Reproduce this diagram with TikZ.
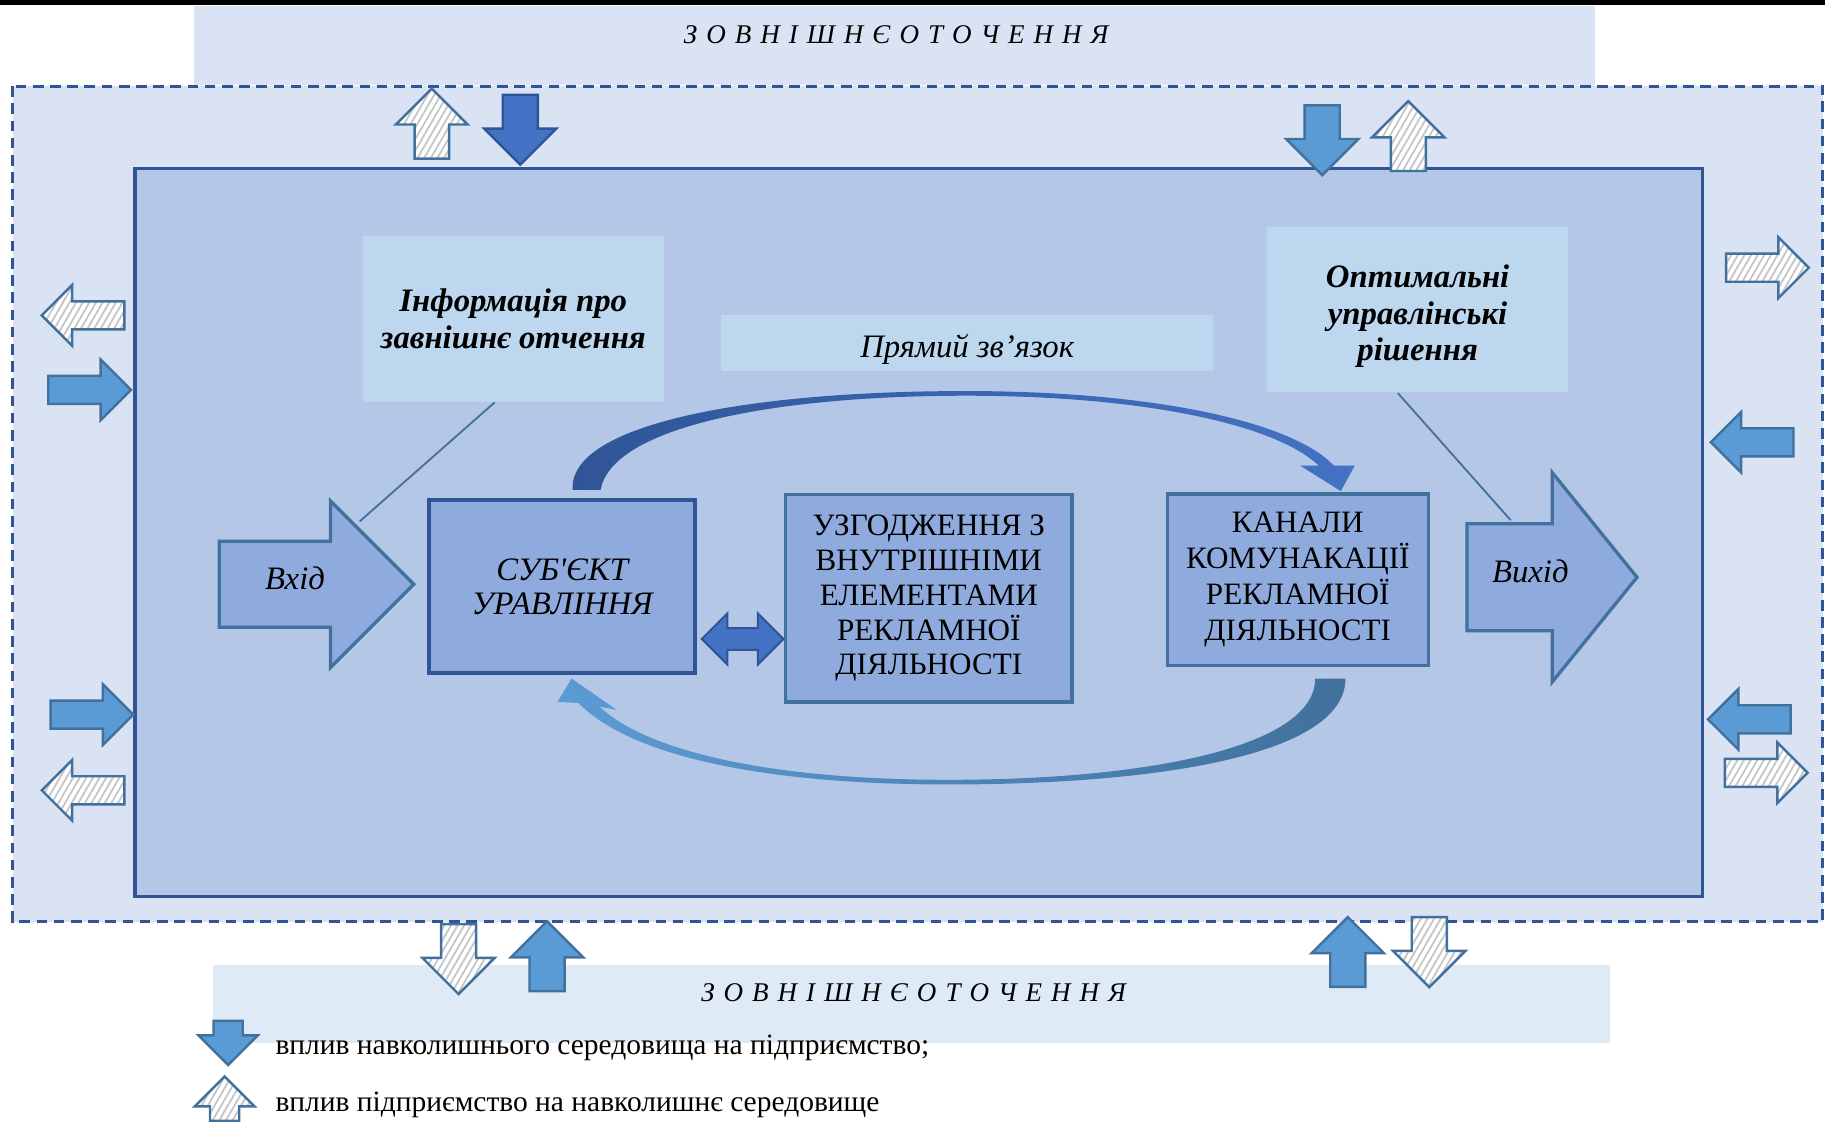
\documentclass[tikz,border=0pt]{standalone}
\usepackage{fontspec}
\setmainfont{Liberation Serif}
\newfontfamily\plainserif{Liberation Serif}
\usetikzlibrary{shapes.arrows, patterns.meta, calc}

\definecolor{outerfill}{HTML}{DAE3F3}
\definecolor{innerfill}{HTML}{B4C7E7}
\definecolor{boxfill}{HTML}{8FAADC}
\definecolor{notefill}{HTML}{BDD7EE}
\definecolor{lowfill}{HTML}{DEEBF7}
\definecolor{frame}{HTML}{2F5597}
\definecolor{steel}{HTML}{41719C}
\definecolor{midblue}{HTML}{5B9BD5}
\definecolor{deepblue}{HTML}{4472C4}

\newcommand{\envword}{З\hspace{2.2pt}О\hspace{2.2pt}В\hspace{2.2pt}Н\hspace{2.2pt}І\hspace{2.2pt}Ш\hspace{2.2pt}Н\hspace{2.2pt}Є\hspace{2.2pt}О\hspace{2.2pt}Т\hspace{2.2pt}О\hspace{2.2pt}Ч\hspace{2.2pt}Е\hspace{2.2pt}Н\hspace{2.2pt}Н\hspace{2.2pt}Я}

\tikzset{
  envsolid/.style={single arrow, inner xsep=0pt, draw=steel, line width=0.6pt, fill=midblue},
  envdeep/.style={single arrow, inner xsep=0pt, draw=frame, line width=0.6pt, fill=deepblue},
  envhatch/.style={single arrow, inner xsep=0pt, draw=steel, line width=0.6pt, preaction={fill=white},
    pattern={Lines[angle=60,distance=1.4pt,line width=0.45pt]}, pattern color=gray!45},
  vert/.style={inner ysep=0.14cm, minimum height=0.6cm, minimum width=0.6cm, single arrow head extend=0.16cm},
  horiz/.style={inner ysep=0.11cm, minimum height=0.71cm, minimum width=0.5cm, single arrow head extend=0.14cm},
  small/.style={inner ysep=0.115cm, minimum height=0.38cm, minimum width=0.49cm, single arrow head extend=0.13cm},
  notebox/.style={fill=notefill, inner sep=0pt, align=center},
  unitbox/.style={draw=steel, line width=0.8pt, fill=boxfill, inner sep=0pt, align=center},
  bigarrow/.style={single arrow, draw=steel, line width=0.8pt, fill=boxfill, inner xsep=0pt,
    text height=0.13cm, text depth=0.04cm, font=\fontsize{8}{9}\selectfont\itshape},
  link/.style={steel, line width=0.45pt},
  envtext/.style={font=\fontsize{6.6}{8}\selectfont\itshape},
  legtext/.style={anchor=west, inner sep=0pt, font=\fontsize{7.2}{8.5}\selectfont},
}

\begin{document}
\begin{tikzpicture}[x=0.01cm, y=-0.01cm]
\useasboundingbox (0,0) rectangle (1568,964);
\fill[black] (0,0) rectangle (1568,4);
\fill[outerfill] (167,5) rectangle (1370,73); %top band
\fill[lowfill] (183,829) rectangle (1383,896); %bottom band
\draw[frame, line width=0.75pt, dash pattern=on 2.6pt off 1.6pt, fill=outerfill] (11,74) rectangle (1566,792);
\draw[frame, line width=0.8pt, fill=innerfill] (116,145) rectangle (1463,770);

\node[envtext] (envtop) at (770,30) {\envword};
\node[envtext] (envbot) at (785,853) {\envword};

% influences through the border
\node[envhatch, vert, rotate=90, anchor=tail] (tl1) at (371,137) {};
\node[envdeep, vert, rotate=-90, anchor=tip] (tl2) at (447,143) {};
\node[envsolid, vert, rotate=-90, anchor=tip] (tr1) at (1136,152) {};
\node[envhatch, vert, rotate=90, anchor=tail] (tr2) at (1210,148) {};
\node[envhatch, horiz, rotate=180, anchor=tail] (lf1) at (108,271) {};
\node[envsolid, horiz, anchor=tip] (lf2) at (114,335) {};
\node[envsolid, horiz, anchor=tip] (lf3) at (116,614) {};
\node[envhatch, horiz, rotate=180, anchor=tail] (lf4) at (108,679) {};
\node[envhatch, horiz, anchor=tail] (rt1) at (1482,230) {};
\node[envsolid, horiz, rotate=180, anchor=tail] (rt2) at (1542,380) {};
\node[envsolid, horiz, rotate=180, anchor=tip] (rt3) at (1466,618) {};
\node[envhatch, horiz, anchor=tail] (rt4) at (1481,664) {};
\node[envhatch, vert, rotate=-90, anchor=tail] (bl1) at (394,793) {};
\node[envsolid, vert, rotate=90, anchor=tip] (bl2) at (470,790) {};
\node[envsolid, vert, rotate=90, anchor=tail] (br1) at (1158,849) {};
\node[envhatch, vert, rotate=-90, anchor=tail] (br2) at (1228,787) {};

% notes
\node[notebox, minimum width=2.58cm, minimum height=1.42cm, font=\fontsize{8}{9.1}\selectfont\bfseries\itshape] (info) at (441,274) {Інформація про\\завнішнє отчення};
\node[notebox, minimum width=4.22cm, minimum height=0.48cm, text height=0.24cm, text depth=0.0cm, font=\fontsize{8}{9}\selectfont\itshape] (direct) at (831,295) {Прямий зв’язок};
\node[notebox, minimum width=2.58cm, minimum height=1.42cm, font=\fontsize{8}{9}\selectfont\bfseries\itshape] (optim) at (1218,266) {\rule{0pt}{2.4ex}Оптимальні\\управлінські\\рішення};

% control loop
\node[bigarrow, inner ysep=0.27cm, minimum height=1.67cm, minimum width=1.4cm, single arrow head extend=0.345cm, anchor=tail] (input) at (187,502) {Вхід\hspace{0.2cm}};
\node[unitbox, line width=1pt, draw=frame, minimum width=2.28cm, minimum height=1.48cm, font=\plainserif\fontsize{8}{8.3}\selectfont\itshape] (subj) at (483,504) {СУБ'ЄКТ\\УРАВЛІННЯ};
\node[unitbox, minimum width=2.46cm, minimum height=1.78cm, font=\fontsize{7.6}{8.5}\selectfont] (agree) at (798,514) {УЗГОДЖЕННЯ З\\ВНУТРІШНІМИ\\ЕЛЕМЕНТАМИ\\РЕКЛАМНОЇ\\ДІЯЛЬНОСТІ};
\node[unitbox, minimum width=2.24cm, minimum height=1.47cm, font=\fontsize{7.6}{8.8}\selectfont] (chan) at (1115,498) {КАНАЛИ\\КОМУНАКАЦІЇ\\РЕКЛАМНОЇ\\ДІЯЛЬНОСТІ};
\node[bigarrow, inner ysep=0.36cm, minimum height=1.46cm, minimum width=1.77cm, single arrow head extend=0.44cm, single arrow tip angle=102, anchor=tail] (output) at (1259,496) {Вихід\hspace{0.2cm}};
\node[double arrow, inner xsep=0pt, inner ysep=0.085cm, draw=frame, line width=0.5pt, fill=deepblue, minimum height=0.7cm, minimum width=0.42cm, double arrow head extend=0.125cm] (mutual) at (638,549) {};

\draw[link] ($(info.south)+(-16,0)$) -- (309,448);
\draw[link] ($(optim.south)+(-17,0)$) -- (1298,447);

% forward and feedback bands
\shade[left color=frame, right color=deepblue] (492,421) .. controls (488,365) and (640,336) .. (830,336)
  .. controls (990,336) and (1110,362) .. (1146,400) -- (1164,400) -- (1152,422) -- (1117,400) -- (1133,400)
  .. controls (1095,364) and (980,340) .. (830,340) .. controls (660,340) and (525,368) .. (516,421) -- cycle;
\shade[left color=midblue, right color=steel] (1156,583) .. controls (1156,650) and (990,674) .. (815,674)
  .. controls (650,674) and (540,648) .. (497,604) -- (479,603) -- (491,583) -- (530,610) -- (515,607)
  .. controls (555,645) and (660,670) .. (815,670) .. controls (985,670) and (1130,642) .. (1130,583) -- cycle;

% legend
\node[envsolid, small, rotate=-90, anchor=tail] (keyin) at (196,876) {};
\node[legtext] (keyintext) at (236,900) {вплив навколишнього середовища на підприємство;};
\node[envhatch, small, rotate=90, anchor=tail] (keyout) at (193,964) {};
\node[legtext] (keyouttext) at (236,949) {вплив підприємство на навколишнє середовище};
\end{tikzpicture}
\end{document}
